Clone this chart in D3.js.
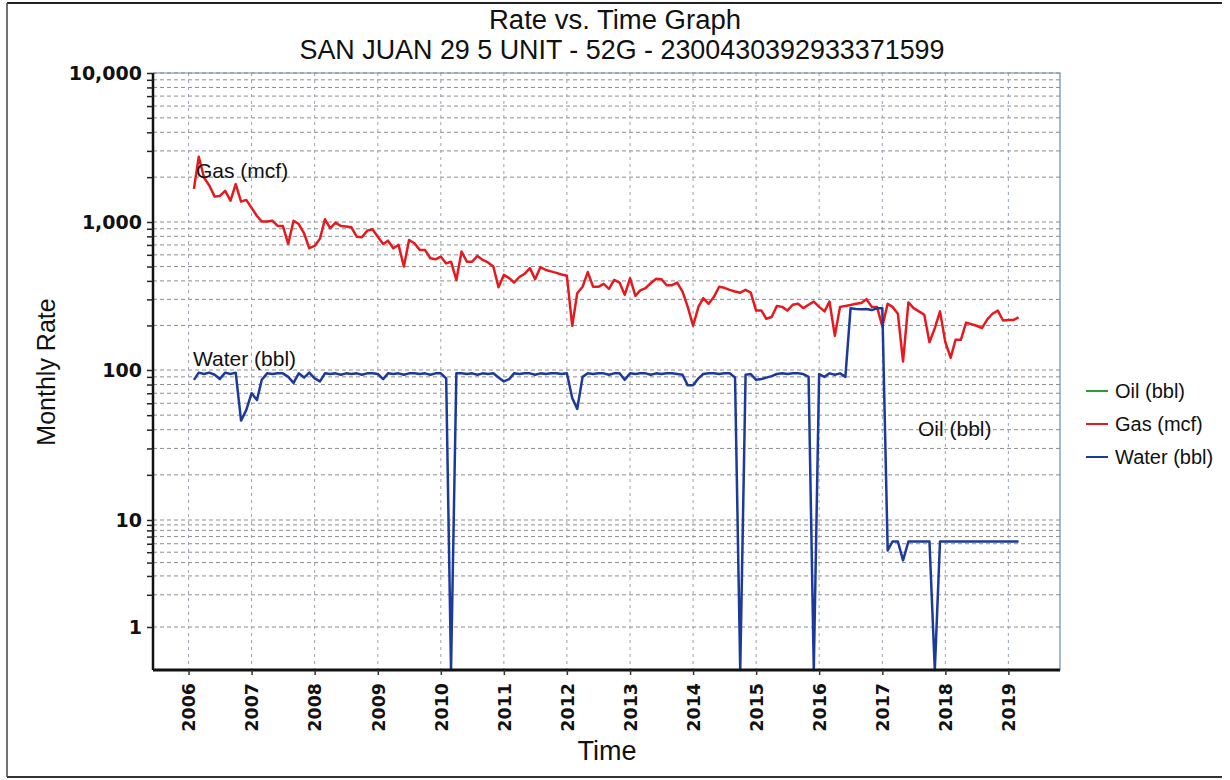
<!DOCTYPE html>
<html>
<head>
<meta charset="utf-8">
<script src="https://cdn.jsdelivr.net/npm/d3@7"></script>
<style>
  body { margin: 0; background: #fff; }
  svg { display: block; }
</style>
</head>
<body>
<div id="chart"></div>
<script>
// monthly production, first month Feb 2006
const firstMonth = new Date(2006, 1, 1);

const gasMcf = [
  1669, 2743, 1981, 1757, 1480, 1497, 1620, 1390, 1795, 1371, 1407, 1243,
  1098, 1008, 1008, 1020, 940, 940, 711, 1020, 969, 839, 665, 689,
  772, 1043, 907, 990, 940, 933, 921, 796, 788, 874, 893, 796,
  711, 748, 665, 700, 500, 756, 718, 648, 648, 569, 560, 583,
  525, 539, 406, 631, 539, 539, 590, 554, 533, 500, 363, 439,
  418, 390, 425, 446, 488, 411, 496, 474, 464, 453, 442, 433,
  199, 330, 365, 459, 365, 365, 382, 353, 406, 390, 322, 417,
  317, 345, 358, 386, 413, 411, 374, 374, 390, 339, 267, 199,
  267, 306, 280, 311, 365, 359, 348, 339, 333, 348, 333, 252,
  252, 222, 228, 271, 267, 252, 276, 280, 262, 276, 290, 267,
  249, 290, 170, 267, 271, 275, 280, 284, 301, 267, 267, 197,
  280, 267, 240, 114, 286, 262, 249, 236, 154, 192, 249, 154,
  121, 160, 160, 209, 204, 199, 192, 220, 240, 252, 216, 218,
  218, 227
];

const waterBbl = [
  86, 96, 94, 96, 93, 87, 96, 94, 96, 46, 54, 70,
  63, 86, 95, 94, 95, 95, 90, 82, 95, 89, 96, 88,
  84, 95, 94, 95, 93, 95, 94, 95, 93, 95, 95, 94,
  87, 95, 94, 95, 93, 95, 95, 94, 95, 93, 95, 95,
  88, 0, 95, 95, 94, 95, 93, 95, 94, 95, 89, 84,
  87, 95, 94, 95, 95, 93, 95, 94, 95, 95, 94, 95,
  65, 55, 90, 95, 94, 95, 95, 93, 95, 95, 86, 95,
  94, 95, 95, 93, 95, 94, 95, 95, 94, 93, 79, 79,
  88, 94, 95, 95, 94, 95, 95, 89, 0, 93, 94, 86,
  87, 89, 91, 94, 95, 94, 95, 95, 94, 90, 0, 94,
  90, 95, 93, 95, 90, 261, 258, 257, 258, 254, 261, 261,
  5.2, 6.3, 6.3, 4.2, 6.3, 6.3, 6.3, 6.3, 6.3, 0, 6.3, 6.3,
  6.3, 6.3, 6.3, 6.3, 6.3, 6.3, 6.3, 6.3, 6.3, 6.3, 6.3, 6.3,
  6.3, 6.3
];

const legendNames = ["Oil (bbl)", "Gas (mcf)", "Water (bbl)"];
const legendColors = ["#2e9a34", "#e41a1f", "#1c3a9c"];
const decadeLabels = [1, 10, 100, 1000, 10000];
const yearTicks = d3.range(2006, 2020);

const W = 1230, H = 780;
const plot = { left: 153, right: 1060, top: 73, bottom: 670 };

const svg = d3.select("#chart").append("svg")
  .attr("width", W)
  .attr("height", H)
  .style("font-family", "'Liberation Sans', Arial, sans-serif");

// outer border of the scanned page
svg.append("line").attr("x1", 7).attr("x2", 1222).attr("y1", 3).attr("y2", 3)
  .attr("stroke", "#222").attr("stroke-width", 2);
svg.append("line").attr("x1", 7).attr("x2", 1222).attr("y1", 777).attr("y2", 777)
  .attr("stroke", "#333").attr("stroke-width", 2);
svg.append("line").attr("x1", 7).attr("x2", 7).attr("y1", 3).attr("y2", 777)
  .attr("stroke", "#444").attr("stroke-width", 1.5);

const x = d3.scaleTime()
  .domain([new Date(2005, 5, 9), new Date(2019, 9, 27)])
  .range([plot.left, plot.right]);

// the lowest decade is drawn shorter than the others in the original
const y = d3.scaleLog()
  .domain([0.4, 1, 10, 100, 1000, 10000])
  .range([plot.bottom, 627, 520, 370, 222, plot.top])
  .clamp(true);

const gridValues = [];
[1, 10, 100, 1000].forEach(d => {
  for (let k = 1; k < 10; k++) gridValues.push(k * d);
});
gridValues.push(10000);

const yearDates = yearTicks.map(yr => new Date(yr, 0, 1));

// grid
const grid = svg.append("g");
grid.selectAll(".hgrid")
  .data(gridValues)
  .join("line")
  .attr("class", "hgrid")
  .attr("x1", plot.left).attr("x2", plot.right)
  .attr("y1", d => y(d)).attr("y2", d => y(d))
  .attr("stroke", "#8d8d8d")
  .attr("stroke-width", 1)
  .attr("stroke-dasharray", "4,3");

grid.selectAll(".vgrid")
  .data(yearDates)
  .join("line")
  .attr("class", "vgrid")
  .attr("x1", d => x(d)).attr("x2", d => x(d))
  .attr("y1", plot.top).attr("y2", plot.bottom)
  .attr("stroke", "#98a3b3")
  .attr("stroke-width", 1)
  .attr("stroke-dasharray", "3,4");

// frame top/right
svg.append("path")
  .attr("d", `M${plot.left},${plot.top}H${plot.right}V${plot.bottom}`)
  .attr("fill", "none")
  .attr("stroke", "#6f8aa8")
  .attr("stroke-width", 1.2);

// series
const gasData = gasMcf.map((v, i) => ({ date: d3.timeMonth.offset(firstMonth, i), value: v }));
const waterData = waterBbl.map((v, i) => ({ date: d3.timeMonth.offset(firstMonth, i), value: v }));

const line = d3.line()
  .x(d => x(d.date))
  .y(d => y(d.value));

svg.append("path")
  .datum(gasData)
  .attr("fill", "none")
  .attr("stroke", legendColors[1])
  .attr("stroke-width", 2.5)
  .attr("stroke-linejoin", "round")
  .attr("d", line);

svg.append("path")
  .datum(waterData)
  .attr("fill", "none")
  .attr("stroke", legendColors[2])
  .attr("stroke-width", 2.5)
  .attr("stroke-linejoin", "round")
  .attr("d", line);

// axes
const yAxis = svg.append("g")
  .attr("transform", `translate(${plot.left},0)`)
  .call(d3.axisLeft(y)
    .tickValues(gridValues)
    .tickSize(6)
    .tickPadding(5)
    .tickFormat(d => decadeLabels.includes(d) ? d3.format(",")(d) : ""));
yAxis.select(".domain")
  .attr("d", `M0,${plot.top}V${plot.bottom}`)
  .attr("stroke", "#111")
  .attr("stroke-width", 2.5);
yAxis.selectAll(".tick line").attr("stroke", "#222").attr("stroke-width", 1.5);
yAxis.selectAll(".tick text")
  .attr("fill", "#111")
  .style("font-family", "'DejaVu Sans', Verdana, sans-serif")
  .style("font-weight", "bold")
  .style("font-size", "19px");

const xAxis = svg.append("g")
  .attr("transform", `translate(0,${plot.bottom})`)
  .call(d3.axisBottom(x)
    .tickValues(yearDates)
    .tickSize(5)
    .tickFormat(d3.timeFormat("%Y")));
xAxis.select(".domain")
  .attr("d", `M${plot.left},0H${plot.right}`)
  .attr("stroke", "#111")
  .attr("stroke-width", 3);
xAxis.selectAll(".tick line").attr("stroke", "#333").attr("stroke-width", 1.5);
xAxis.selectAll(".tick text")
  .attr("fill", "#111")
  .attr("transform", "rotate(-90)")
  .attr("x", -13)
  .attr("y", 0)
  .attr("dy", "0.36em")
  .style("text-anchor", "end")
  .style("font-family", "'DejaVu Sans', Verdana, sans-serif")
  .style("font-weight", "bold")
  .style("font-size", "17.5px");

// titles
svg.append("text")
  .attr("x", 615).attr("y", 29)
  .attr("text-anchor", "middle")
  .attr("textLength", 252)
  .attr("lengthAdjust", "spacingAndGlyphs")
  .style("font-size", "27px")
  .attr("fill", "#111")
  .text("Rate vs. Time Graph");

svg.append("text")
  .attr("x", 622).attr("y", 59)
  .attr("text-anchor", "middle")
  .attr("textLength", 645)
  .attr("lengthAdjust", "spacingAndGlyphs")
  .style("font-size", "28px")
  .attr("fill", "#111")
  .text("SAN JUAN 29 5 UNIT - 52G - 2300430392933371599");

svg.append("text")
  .attr("x", 607).attr("y", 760)
  .attr("text-anchor", "middle")
  .style("font-size", "27px")
  .attr("fill", "#111")
  .text("Time");

svg.append("text")
  .attr("transform", "translate(55,372) rotate(-90)")
  .attr("text-anchor", "middle")
  .style("font-size", "25px")
  .attr("fill", "#111")
  .text("Monthly Rate");

// in-plot series labels
const labels = [
  { text: "Gas (mcf)", x: 196, y: 178 },
  { text: "Water (bbl)", x: 193, y: 366 },
  { text: "Oil (bbl)", x: 918, y: 436 }
];
svg.selectAll(".series-label")
  .data(labels)
  .join("text")
  .attr("class", "series-label")
  .attr("x", d => d.x)
  .attr("y", d => d.y)
  .style("font-size", "21px")
  .attr("fill", "#111")
  .text(d => d.text);

// legend
const legend = svg.append("g").attr("transform", "translate(1086,391)");
const items = legend.selectAll("g")
  .data(legendNames)
  .join("g")
  .attr("transform", (d, i) => `translate(0,${i * 33})`);
items.append("line")
  .attr("x1", 0).attr("x2", 22)
  .attr("stroke", (d, i) => legendColors[i])
  .attr("stroke-width", 2);
items.append("text")
  .attr("x", 29).attr("y", 7)
  .style("font-size", "20px")
  .attr("fill", "#111")
  .text(d => d);
</script>
</body>
</html>
